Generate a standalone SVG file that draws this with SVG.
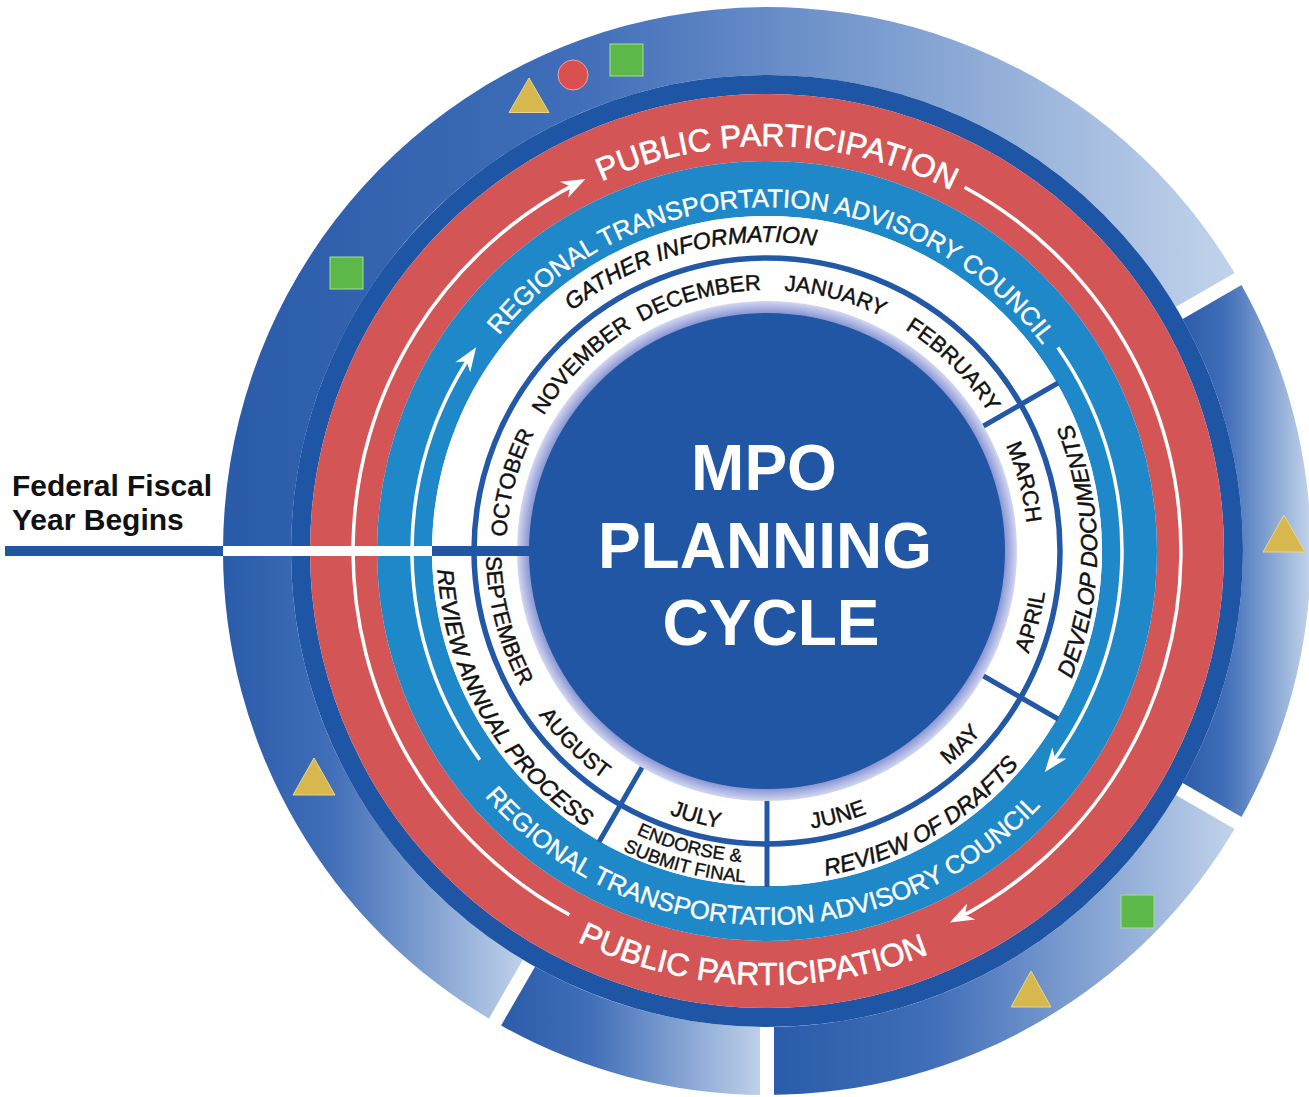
<svg xmlns="http://www.w3.org/2000/svg" width="1309" height="1097" viewBox="0 0 1309 1097">
<defs>
<style>
.mo{font-family:"Liberation Sans",Arial,sans-serif;font-size:22px;fill:#111;stroke:#111;stroke-width:0.45}
.ph{font-family:"Liberation Sans",Arial,sans-serif;font-size:23px;font-style:italic;fill:#111;stroke:#111;stroke-width:0.5}
.en{font-family:"Liberation Sans",Arial,sans-serif;font-size:18.5px;fill:#111;stroke:#111;stroke-width:0.4}
.rt{font-family:"Liberation Sans",Arial,sans-serif;font-size:25.5px;fill:#fff;stroke:#fff;stroke-width:0.4}
.pp{font-family:"Liberation Sans",Arial,sans-serif;font-size:32px;fill:#fff;stroke:#fff;stroke-width:0.6}
.ctr{font-family:"Liberation Sans",Arial,sans-serif;font-size:64px;font-weight:bold;fill:#fff}
.lbl{font-family:"Liberation Sans",Arial,sans-serif;font-size:30px;font-weight:bold;fill:#111}
.arr{fill:none;stroke:#fff;stroke-width:3.5}
.div{stroke:#2358a6;stroke-width:5}
.gap{stroke:#fff;stroke-width:14}
.seg{fill:url(#segGrad)}
.sq{fill:#5cb848;stroke:#a9dc9a;stroke-width:1}
.tri{fill:#d6b84e;stroke:#e8d590;stroke-width:1}
</style>
<linearGradient id="segGrad" x1="0" y1="0" x2="1" y2="0">
<stop offset="0" stop-color="#2a5ba9"/>
<stop offset="0.35" stop-color="#406eb8"/>
<stop offset="1" stop-color="#c3d4eb"/>
</linearGradient>
<radialGradient id="lav" gradientUnits="userSpaceOnUse" cx="767" cy="551" r="250">
<stop offset="0" stop-color="#8793d2"/>
<stop offset="0.95" stop-color="#8793d2"/>
<stop offset="1" stop-color="#d3d7f1"/>
</radialGradient>
<marker id="ah" markerUnits="userSpaceOnUse" markerWidth="30" markerHeight="24" viewBox="-20 -12 30 24" refX="0" refY="0" orient="auto">
<path d="M6,0 L-18,-9 L-11,0 L-18,9 Z" fill="#fff"/>
</marker>
<path id="cw261" d="M 767,812 A 261 261 0 1 1 767,290 A 261 261 0 1 1 767,812"/>
<path id="ccw281" d="M 767,270 A 281 281 0 1 0 767,832 A 281 281 0 1 0 767,270"/>
<path id="cw309" d="M 767,860 A 309 309 0 1 1 767,242 A 309 309 0 1 1 767,860"/>
<path id="ccw330" d="M 767,221 A 330 330 0 1 0 767,881 A 330 330 0 1 0 767,221"/>
<path id="ccw312" d="M 767,239 A 312 312 0 1 0 767,863 A 312 312 0 1 0 767,239"/>
<path id="ccw332" d="M 767,219 A 332 332 0 1 0 767,883 A 332 332 0 1 0 767,219"/>
<path id="cw344" d="M 767,895 A 344 344 0 1 1 767,207 A 344 344 0 1 1 767,895"/>
<path id="ccw374" d="M 767,177 A 374 374 0 1 0 767,925 A 374 374 0 1 0 767,177"/>
<path id="cw405" d="M 767,956 A 405 405 0 1 1 767,146 A 405 405 0 1 1 767,956"/>
<path id="ccw434" d="M 767,117 A 434 434 0 1 0 767,985 A 434 434 0 1 0 767,117"/>
</defs>

<rect width="1309" height="1097" fill="#fff"/>

<g id="outer-ring">
<path class="seg" d="M 495,1022.1 A 544 544 0 0 1 223,551 L 291,551 A 476 476 0 0 0 529,963.2 Z"/>
<path class="seg" d="M 223,551 A 544 544 0 0 1 1238.1,279 L 1179.2,313 A 476 476 0 0 0 291,551 Z"/>
<path class="seg" d="M 1238.1,279 A 544 544 0 0 1 1238.1,823 L 1179.2,789 A 476 476 0 0 0 1179.2,313 Z"/>
<path class="seg" d="M 1238.1,823 A 544 544 0 0 1 767,1095 L 767,1027 A 476 476 0 0 0 1179.2,789 Z"/>
<path class="seg" d="M 767,1095 A 544 544 0 0 1 495,1022.1 L 529,963.2 A 476 476 0 0 0 767,1027 Z"/>
<line class="gap" x1="1174" y1="316" x2="1245" y2="275"/>
<line class="gap" x1="1174" y1="786" x2="1245" y2="827"/>
<line class="gap" x1="767" y1="1021" x2="767" y2="1103"/>
<line class="gap" x1="532" y1="958" x2="491" y2="1029"/>
<circle cx="767" cy="551" r="466.5" fill="none" stroke="#1e55a5" stroke-width="19"/>
</g>

<g id="public-participation">
<circle cx="767" cy="551" r="423.5" fill="none" stroke="#d35555" stroke-width="67"/>
<text class="pp"><textPath href="#cw405" startOffset="50.417%" text-anchor="middle">PUBLIC PARTICIPATION</textPath></text>
<text class="pp"><textPath href="#ccw434" startOffset="49.444%" text-anchor="middle">PUBLIC PARTICIPATION</textPath></text>
</g>

<g id="rtac">
<circle cx="767" cy="551" r="362.5" fill="none" stroke="#1f88c9" stroke-width="55"/>
<text class="rt"><textPath href="#cw344" startOffset="50.278%" text-anchor="middle">REGIONAL TRANSPORTATION ADVISORY COUNCIL</textPath></text>
<text class="rt"><textPath href="#ccw374" startOffset="49.722%" text-anchor="middle">REGIONAL TRANSPORTATION ADVISORY COUNCIL</textPath></text>
</g>

<g id="phases">
<circle cx="767" cy="551" r="335" fill="#fff"/>
<circle cx="767" cy="551" r="293" fill="none" stroke="#2358a6" stroke-width="5.5"/>
<text class="ph"><textPath href="#cw309" startOffset="45.833%" text-anchor="middle">GATHER INFORMATION</textPath></text>
<text class="ph"><textPath href="#ccw330" startOffset="75%" text-anchor="middle">DEVELOP DOCUMENTS</textPath></text>
<text class="ph"><textPath href="#ccw330" startOffset="58.333%" text-anchor="middle">REVIEW OF DRAFTS</textPath></text>
<text class="ph"><textPath href="#ccw330" startOffset="33.333%" text-anchor="middle">REVIEW ANNUAL PROCESS</textPath></text>
<text class="en"><textPath href="#ccw312" startOffset="45.9%" text-anchor="middle">ENDORSE &amp;</textPath></text>
<text class="en"><textPath href="#ccw332" startOffset="45.9%" text-anchor="middle">SUBMIT FINAL</textPath></text>
</g>

<g id="months">
<text class="mo"><textPath href="#cw261" startOffset="29.167%" text-anchor="middle">OCTOBER</textPath></text>
<text class="mo"><textPath href="#cw261" startOffset="37.5%" text-anchor="middle">NOVEMBER</textPath></text>
<text class="mo"><textPath href="#cw261" startOffset="45.833%" text-anchor="middle">DECEMBER</textPath></text>
<text class="mo"><textPath href="#cw261" startOffset="54.167%" text-anchor="middle">JANUARY</textPath></text>
<text class="mo"><textPath href="#cw261" startOffset="62.5%" text-anchor="middle">FEBRUARY</textPath></text>
<text class="mo"><textPath href="#cw261" startOffset="70.833%" text-anchor="middle">MARCH</textPath></text>
<text class="mo"><textPath href="#ccw281" startOffset="70.833%" text-anchor="middle">APRIL</textPath></text>
<text class="mo"><textPath href="#ccw281" startOffset="62.5%" text-anchor="middle">MAY</textPath></text>
<text class="mo"><textPath href="#ccw281" startOffset="54.167%" text-anchor="middle">JUNE</textPath></text>
<text class="mo"><textPath href="#ccw281" startOffset="45.833%" text-anchor="middle">JULY</textPath></text>
<text class="mo"><textPath href="#ccw281" startOffset="37.5%" text-anchor="middle">AUGUST</textPath></text>
<text class="mo"><textPath href="#ccw281" startOffset="29.167%" text-anchor="middle">SEPTEMBER</textPath></text>
</g>

<g id="center">
<circle cx="767" cy="551" r="250" fill="url(#lav)"/>
<circle cx="767" cy="551" r="238" fill="#2156a4"/>
<text class="ctr" x="764" y="490" text-anchor="middle">MPO</text>
<text class="ctr" x="765" y="568" text-anchor="middle">PLANNING</text>
<text class="ctr" x="771" y="645" text-anchor="middle">CYCLE</text>
</g>

<g id="connectors">
<line class="div" x1="983.5" y1="426" x2="1058" y2="383"/>
<line class="div" x1="983.5" y1="676" x2="1058" y2="719"/>
<line class="div" x1="767" y1="801" x2="767" y2="887"/>
<line class="div" x1="642" y1="767.5" x2="599" y2="842"/>
<path class="arr" d="M 569.4,914.8 A 414 414 0 0 1 580.1,181.6" marker-end="url(#ah)"/>
<path class="arr" d="M 964.6,187.2 A 414 414 0 0 1 955.2,919.7" marker-end="url(#ah)"/>
<path class="arr" d="M 479.8,759.7 A 355 355 0 0 1 472.8,352.3" marker-end="url(#ah)"/>
<path class="arr" d="M 1057.8,347.4 A 355 355 0 0 1 1048.5,767.3" marker-end="url(#ah)"/>
</g>

<g id="fiscal-year">
<rect x="5" y="546" width="219" height="10" fill="#2156a4"/>
<rect x="223" y="546" width="209" height="10" fill="#fff"/>
<rect x="432" y="546" width="98" height="10" fill="#2156a4"/>
<text class="lbl" x="12" y="496">Federal Fiscal</text>
<text class="lbl" x="12" y="530">Year Begins</text>
</g>

<g id="symbols">
<polygon class="tri" points="529,78 509,112.5 549,112.5"/>
<circle cx="573" cy="75" r="15" fill="#d9504e" stroke="#f0a0a0" stroke-width="1"/>
<rect class="sq" x="610" y="44" width="33" height="32"/>
<rect class="sq" x="330" y="257" width="33" height="32"/>
<polygon class="tri" points="1284,515 1263,552 1305,552"/>
<polygon class="tri" points="314,758 293,795 335,795"/>
<rect class="sq" x="1121" y="895" width="33" height="33"/>
<polygon class="tri" points="1031,971 1011,1007 1051,1007"/>
</g>
</svg>
